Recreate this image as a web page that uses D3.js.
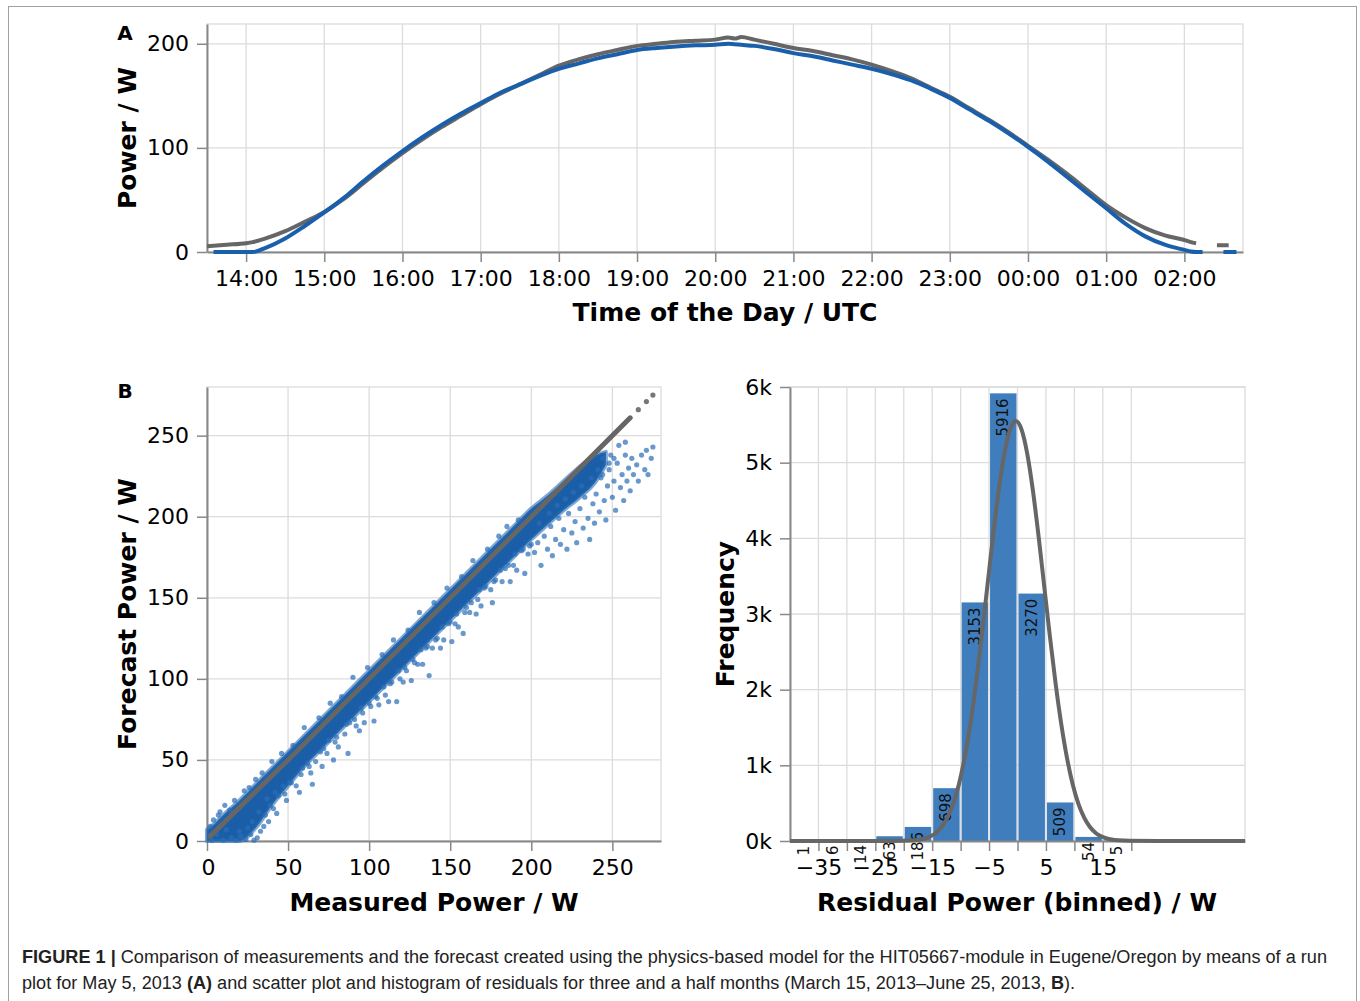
<!DOCTYPE html>
<html>
<head>
<meta charset="utf-8">
<script src="https://cdn.jsdelivr.net/npm/d3@7"></script>
<style>
  body { margin: 0; background: #fff; }
  svg text { font-family: "DejaVu Sans", sans-serif; }
</style>
</head>
<body>
<script>
// ---- panel A: run plot, May 5 2013 (UTC), null = no data
const runTimes = ['13:30','13:35','13:45','14:00','14:05','14:15','14:30','14:45','15:00','15:15','15:30','15:45',
  '16:00','16:15','16:30','16:45','17:00','17:15','17:30','17:45','18:00','18:15','18:30','18:45','19:00','19:15',
  '19:30','19:45','20:00','20:10','20:15','20:20','20:30','20:45','21:00','21:15','21:30','21:45','22:00','22:15',
  '22:30','22:45','23:00','23:15','23:30','23:45','00:00','00:15','00:30','00:45','01:00','01:15','01:30','01:45',
  '02:00','02:05','02:09','02:14','02:25','02:30','02:34','02:40']
const runMeasured = [null,0,0,0,0,4,13,25,38,52,68,83,
  97,110,122,133,143,153,161,169,176,181,186,190,194,196,
  197.5,198.5,199,200,199.5,199,198,195,191,188,184,180,176,171,
  165,157,148,137,126,114,101,87,72,57,42,27,15,7,
  2,0.5,0,0,null,0,0,0]
const runForecast = [5.5,6,7,8.5,9.5,13,20,29,38.5,51,66,81,
  95,108,120,131,142,152,161,170,179,185,190,194,198,200,
  202,203,204,206,205,206.5,204,200,196,193,189,185,180,174,
  167,158,149,138,127,115,102,89,75,60,45,33,23,16,
  11.5,9.5,8.3,null,6.5,6.5,6.5,null]
const runYTicks = [0, 100, 200]

// ---- panel B left: scatter, measured vs forecast (W)
const scatterTicks = [0, 50, 100, 150, 200, 250]
// envelope of the solid core of the cloud
const bandMeasured = [0, 5, 10, 20, 30, 40, 50, 60, 70, 80, 90, 100, 110, 120, 130, 140, 150, 160, 170, 180, 190, 200, 210, 220, 230, 240, 246]
const bandLow =      [0, 0, 0, 0, 8, 22, 34, 46, 56, 66, 76, 86, 96, 106, 116, 126, 136, 146, 156, 166, 176, 186, 195, 204, 212, 222, 232]
const bandHigh =     [7, 11, 16, 25, 35, 45, 55, 65, 75, 85, 95, 105, 115, 125, 135, 145, 155, 165, 175, 185, 195, 205, 213, 222, 231, 238, 240]
const scatterPoints = [
  // low range
  [2,9],[4,13],[7,16],[3,0.5],[10,0.5],[18,0.5],[24,1],[29,0.5],[31,2],[27,4],[33,6],[21,3],[14,19],[8,18],[11,22],
  [17,25],[26,33],[23,31],[35,9],[38,12],[36,16],[41,20],[43,17],[30,38],[34,42],[40,49],[25,8],[28,12],[32,18],
  [37,26],[39,22],[42,30],[20,6],[15,2],[12,7],[6,4],
  // middle range, outer fringe
  [44,28],[46,54],[48,29],[49,25],[51,36],[53,59],[55,34],[57,30],[58,41],[60,70],[62,48],[64,42],[65,35],[67,49],
  [69,76],[71,46],[72,57],[74,54],[76,85],[78,50],[80,64],[81,58],[83,89],[85,66],[87,54],[88,73],[90,101],[92,71],
  [94,68],[96,79],[97,73],[99,107],[101,83],[103,74],[104,89],[106,84],[108,115],[110,90],[112,86],[113,97],
  [115,124],[117,86],[119,100],[121,98],[122,107],[124,130],[126,99],[128,110],[130,109],[131,141],[133,109],
  [135,119],[137,102],[139,119],[140,147],[142,125],[144,119],[146,124],[148,156],[149,134],[151,123],[153,134],
  [155,132],[157,163],[158,128],[160,144],[162,141],[164,173],[166,140],[167,149],[169,145],[171,156],[173,180],
  [175,155],[176,147],[178,161],[180,188],[182,160],[184,168],[185,194],[187,160],[189,170],[191,167],[192,198],
  [194,179],[196,165],[198,177],[200,183],
  // middle range, near the core
  [47,34],[52,36],[59,45],[63,46],[70,55],[75,62],[79,61],[86,72],[91,75],[95,82],[100,85],[105,88],[109,95],
  [114,98],[118,105],[123,105],[127,112],[132,118],[136,120],[141,124],[145,132],[150,135],[154,140],[159,141],
  [163,147],[168,155],[172,157],[177,160],[181,167],[186,170],[190,177],[195,180],[199,182],
  // high range
  [202,178],[204,184],[206,170],[208,188],[210,180],[212,194],[213,176],[215,186],[217,199],[218,183],[220,192],
  [222,180],[223,202],[225,190],[227,197],[228,184],[230,205],[232,193],[233,212],[235,199],[236,186],[238,208],
  [239,196],[240,214],[242,203],[243,224],[245,210],[246,198],[247,219],[248,229],[250,212],[251,222],[252,204],
  [253,233],[255,218],[256,226],[257,210],[258,238],[259,222],[260,230],[261,216],[262,236],[263,226],[265,232],
  [266,222],[268,238],[270,229],[271,241],[272,226],[274,236],[275,243],[258,246],[249,238],[244,236],[254,244],
  [205,196],[211,202],[216,207],[221,211],[226,215],[231,219],[237,224],[241,229],[244,226],[248,233],[251,236]]
const diagLine = [[2,3],[50,50],[100,100],[150,150],[200,200],[261,261]]
const diagDots = [[266,266],[271,271],[275,275]]

// ---- panel B right: histogram of residuals (bins of 5 W)
const binStarts = [-40,-35,-30,-25,-20,-15,-10,-5,0,5,10,15]
const binCounts = [1,6,14,63,186,698,3153,5916,3270,509,54,5]
const histXTicks = [-35,-30,-25,-20,-15,-10,-5,0,5,10,15,20]
const histYTicks = [0,1000,2000,3000,4000,5000,6000]
const fitX = [-40,-30,-25.3,-20.3,-18.3,-16.3,-15.3,-14.3,-13.3,-12.3,-11.3,-10.3,-9.3,-8.3,-7.3,-6.3,-5.3,-4.3,-3.3,-2.3,-1.3,-0.3,
  0.7,1.7,2.7,3.7,4.7,5.7,6.7,7.7,8.7,9.7,10.7,11.7,12.7,13.7,14.7,15.7,17.7,19.7,24.7,30,40]
const fitY = [0,0,0,1.9,8.5,33,62,110,189,311,493,751,1098,1543,2083,2701,3366,4031,4637,5123,5440,5550,
  5440,5123,4637,4031,3366,2701,2083,1543,1098,751,493,311,189,110,62,33,8.5,1.9,0,0,0]

const GRID = '#dcdcdc'
const AXIS = '#888'
const BLUE = '#1a5fac'
const GRAY = '#666'

const svg = d3.select('body').append('svg')
  .attr('width', 1360)
  .attr('height', 1001)

svg.append('rect')
  .attr('x', 8.5).attr('y', 6.5)
  .attr('width', 1348).attr('height', 1020)
  .attr('fill', 'none').attr('stroke', '#a0a0a0')

function grid(x, y, xt, yt) {
  const g = svg.append('g')
  const [x0, x1] = x.range(), [y0, y1] = y.range()
  g.selectAll('.gx').data(xt).enter().append('line')
    .attr('x1', d => x(d)).attr('x2', d => x(d)).attr('y1', y0).attr('y2', y1)
    .attr('stroke', GRID).attr('stroke-width', 1.3)
  g.selectAll('.gy').data(yt).enter().append('line')
    .attr('y1', d => y(d)).attr('y2', d => y(d)).attr('x1', x0).attr('x2', x1)
    .attr('stroke', GRID).attr('stroke-width', 1.3)
  g.append('rect')
    .attr('x', x0).attr('y', y1).attr('width', x1 - x0).attr('height', y0 - y1)
    .attr('fill', 'none').attr('stroke', GRID).attr('stroke-width', 1.3)
}

function styleAxis(g) {
  g.attr('font-family', 'DejaVu Sans').attr('font-size', 22)
  g.select('.domain').attr('stroke', AXIS).attr('stroke-width', 2)
  g.selectAll('.tick line').attr('stroke', AXIS).attr('stroke-width', 1.5)
  g.selectAll('.tick text').attr('fill', '#000')
}

function axes(x, y, xAxis, yAxis) {
  const gx = svg.append('g').attr('transform', `translate(0,${y.range()[0]})`).call(xAxis)
  const gy = svg.append('g').attr('transform', `translate(${x.range()[0]},0)`).call(yAxis)
  styleAxis(gx)
  styleAxis(gy)
  return gx
}

function title(txt, x, y, rotate) {
  svg.append('text')
    .attr('transform', `translate(${x},${y})` + (rotate ? ' rotate(-90)' : ''))
    .attr('text-anchor', 'middle')
    .attr('dominant-baseline', 'central')
    .attr('font-weight', 'bold')
    .attr('font-size', 25)
    .text(txt)
}

function letter(txt, x, y) {
  svg.append('text').attr('x', x).attr('y', y)
    .attr('text-anchor', 'middle').attr('font-weight', 'bold').attr('font-size', 20)
    .text(txt)
}

// ================= A =================
const parseT = s => {
  const [h, m] = s.split(':').map(Number)
  return new Date(Date.UTC(2013, 4, h < 12 ? 6 : 5, h, m))
}
const runData = runTimes.map((t, i) => ({ t: parseT(t), m: runMeasured[i], f: runForecast[i] }))

const ax = d3.scaleUtc()
  .domain([new Date(Date.UTC(2013, 4, 5, 13, 30)), new Date(Date.UTC(2013, 4, 6, 2, 45))])
  .range([207, 1243])
const ay = d3.scaleLinear().domain([0, 219]).range([252, 24])
const hourTicks = ax.ticks(d3.utcHour.every(1))

grid(ax, ay, hourTicks, runYTicks)
axes(ax, ay,
  d3.axisBottom(ax).tickValues(hourTicks).tickFormat(d3.utcFormat('%H:%M')).tickSize(10).tickPadding(8).tickSizeOuter(0),
  d3.axisLeft(ay).tickValues(runYTicks).tickSize(10).tickPadding(8).tickSizeOuter(0))

const runLine = key => d3.line()
  .defined(d => d[key] != null)
  .x(d => ax(d.t))
  .y(d => ay(d[key]))
  .curve(d3.curveMonotoneX)

svg.append('path').datum(runData)
  .attr('d', runLine('f'))
  .attr('fill', 'none').attr('stroke', GRAY).attr('stroke-width', 4).attr('stroke-linejoin', 'round')
svg.append('path').datum(runData)
  .attr('d', runLine('m'))
  .attr('fill', 'none').attr('stroke', BLUE).attr('stroke-width', 4).attr('stroke-linejoin', 'round')

title('Power / W', 127, 138, true)
title('Time of the Day / UTC', 725, 312, false)
letter('A', 125, 40)

// ================= B scatter =================
const sx = d3.scaleLinear().domain([0, 280]).range([207, 661])
const sy = d3.scaleLinear().domain([0, 280]).range([841, 387])

grid(sx, sy, scatterTicks, scatterTicks)
const sgx = axes(sx, sy,
  d3.axisBottom(sx).tickValues(scatterTicks).tickSize(10).tickPadding(8).tickSizeOuter(0),
  d3.axisLeft(sy).tickValues(scatterTicks).tickSize(10).tickPadding(8).tickSizeOuter(0))
// first label flush with the axis start
sgx.selectAll('.tick text').filter(d => d === 0).attr('text-anchor', 'start').attr('x', -6)

const band = bandMeasured.map((m, i) => ({ m, lo: bandLow[i], hi: bandHigh[i] }))
svg.append('path').datum(band)
  .attr('d', d3.area().x(d => sx(d.m)).y0(d => sy(d.lo)).y1(d => sy(d.hi)).curve(d3.curveMonotoneX))
  .attr('fill', '#1b5ea8')
  .attr('stroke', '#2a6db6').attr('stroke-opacity', 0.6).attr('stroke-width', 4).attr('stroke-linejoin', 'round')

svg.append('g')
  .selectAll('circle')
  .data(scatterPoints)
  .enter()
  .append('circle')
  .attr('cx', d => sx(d[0]))
  .attr('cy', d => sy(d[1]))
  .attr('r', 2.6)
  .attr('fill', '#2a6db6')
  .attr('fill-opacity', 0.7)

svg.append('path').datum(diagLine)
  .attr('d', d3.line().x(d => sx(d[0])).y(d => sy(d[1])))
  .attr('fill', 'none').attr('stroke', GRAY).attr('stroke-width', 5).attr('stroke-linecap', 'round')
svg.append('g')
  .selectAll('circle')
  .data(diagDots)
  .enter()
  .append('circle')
  .attr('cx', d => sx(d[0]))
  .attr('cy', d => sy(d[1]))
  .attr('r', 2.6)
  .attr('fill', '#777')

title('Forecast Power / W', 127, 614, true)
title('Measured Power / W', 434, 902, false)
letter('B', 125, 398)

// ================= B histogram =================
const hx = d3.scaleLinear().domain([-40, 40]).range([790, 1245])
const hy = d3.scaleLinear().domain([0, 6000]).range([841, 387])

grid(hx, hy, histXTicks, histYTicks)

const bins = binStarts.map((b, i) => ({ b, n: binCounts[i] }))
svg.append('g')
  .selectAll('rect')
  .data(bins)
  .enter()
  .append('rect')
  .attr('x', d => hx(d.b) + 1)
  .attr('width', d => hx(d.b + 5) - hx(d.b) - 2)
  .attr('y', d => hy(d.n))
  .attr('height', d => hy(0) - hy(d.n))
  .attr('fill', '#3f7dbd')

axes(hx, hy,
  d3.axisBottom(hx).tickValues(histXTicks)
    .tickFormat(d => (d + 35) % 10 === 0 ? d3.format('d')(d) : '')
    .tickSize(10).tickPadding(8).tickSizeOuter(0),
  d3.axisLeft(hy).tickValues(histYTicks).tickFormat(d => d / 1000 + 'k')
    .tickSize(10).tickPadding(8).tickSizeOuter(0))

svg.append('g')
  .selectAll('text')
  .data(bins)
  .enter()
  .append('text')
  .attr('transform', d => `translate(${hx(d.b + 2.5)},${hy(d.n) + 5}) rotate(-90)`)
  .attr('text-anchor', 'end')
  .attr('dominant-baseline', 'central')
  .attr('font-size', 15)
  .attr('fill', '#111')
  .text(d => d.n)

const fit = fitX.map((x, i) => [x, fitY[i]])
svg.append('path').datum(fit)
  .attr('d', d3.line().x(d => hx(d[0])).y(d => hy(d[1])).curve(d3.curveMonotoneX))
  .attr('fill', 'none').attr('stroke', GRAY).attr('stroke-width', 4)

title('Frequency', 725, 614, true)
title('Residual Power (binned) / W', 1017, 902, false)

// ================= caption =================
const cap = svg.append('g')
  .attr('font-size', 18)
  .attr('fill', '#222')
const c1 = cap.append('text').attr('x', 22).attr('y', 963)
  .attr('textLength', 1305).attr('lengthAdjust', 'spacingAndGlyphs')
  .style('font-family', '"Liberation Sans Narrow", "Liberation Sans", Arial, sans-serif')
c1.append('tspan').attr('font-weight', 'bold').text('FIGURE 1 | ')
c1.append('tspan').text('Comparison of measurements and the forecast created using the physics-based model for the HIT05667-module in Eugene/Oregon by means of a run')
const c2 = cap.append('text').attr('x', 22).attr('y', 989)
  .attr('textLength', 1053).attr('lengthAdjust', 'spacingAndGlyphs')
  .style('font-family', '"Liberation Sans Narrow", "Liberation Sans", Arial, sans-serif')
c2.append('tspan').text('plot for May 5, 2013 ')
c2.append('tspan').attr('font-weight', 'bold').text('(A)')
c2.append('tspan').text(' and scatter plot and histogram of residuals for three and a half months (March 15, 2013\u2013June 25, 2013, ')
c2.append('tspan').attr('font-weight', 'bold').text('B')
c2.append('tspan').text(').')
</script>
</body>
</html>
